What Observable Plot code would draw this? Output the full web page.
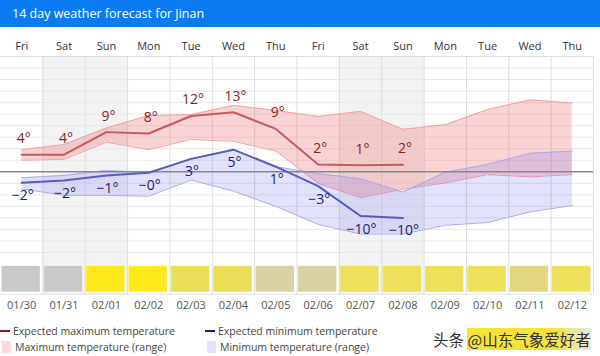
<!DOCTYPE html>
<html>
<head>
<meta charset="utf-8">
<script src="https://cdn.jsdelivr.net/npm/d3@7"></script>
<script src="https://cdn.jsdelivr.net/npm/@observablehq/plot@0.6"></script>
<style>
  body { margin:0; padding:0; width:600px; height:356px; overflow:hidden; background:#fff; font-family:"Open Sans", sans-serif; position:relative; }
  #title { height:27px; background:#0b7bf3; color:#fff; font-size:12.5px; line-height:27px; padding-left:12px; }
  #chart svg { display:block; }
  .leg { position:absolute; font-size:10.5px; color:#444; white-space:nowrap; }
  .leg .ln { display:inline-block; width:10px; height:2px; vertical-align:middle; margin-right:3px; position:relative; top:-1px; }
  .leg .sq { display:inline-block; width:9px; height:12px; vertical-align:middle; margin-right:4px; position:relative; top:-1px; }
  #wm { position:absolute; left:433px; top:328px; font-family:"Noto Sans CJK SC", sans-serif; font-size:15.5px; color:#333; white-space:nowrap; }
  #wm span { background:linear-gradient(90deg,#f5e23a,#f5e23a 70%,#e8e8e8); }
</style>
</head>
<body>
<div id="title">14 day weather forecast for Jinan</div>
<div id="chart"></div>
<div class="leg" style="left:0px;top:324px"><span class="ln" style="background:#8b1c1c"></span>Expected maximum temperature</div>
<div class="leg" style="left:2px;top:340px"><span class="sq" style="background:#fbd9d9"></span>Maximum temperature (range)</div>
<div class="leg" style="left:205px;top:324px"><span class="ln" style="background:#1c1c70"></span>Expected minimum temperature</div>
<div class="leg" style="left:207px;top:340px"><span class="sq" style="background:#e2e2fa"></span>Minimum temperature (range)</div>
<div id="wm">头条 <span>@山东气象爱好者</span></div>
<script>
const days = ["Fri","Sat","Sun","Mon","Tue","Wed","Thu","Fri","Sat","Sun","Mon","Tue","Wed","Thu"];
const dates = ["01/30","01/31","02/01","02/02","02/03","02/04","02/05","02/06","02/07","02/08","02/09","02/10","02/11","02/12"];
const maxExpected = [3.7, 3.7, 8.6, 8.3, 12.1, 12.9, 9.3, 1.6, 1.4, 1.5];
const maxLabels = ["4°","4°","9°","8°","12°","13°","9°","2°","1°","2°"];
const minExpected = [-2.4, -1.9, -0.8, -0.2, 2.8, 4.8, 1.1, -3.1, -9.6, -10.0];
const minLabels = ["−2°","−2°","−1°","−0°","3°","5°","1°","−3°","−10°","−10°"];
const maxRangeHigh = [4.8, 5.9, 9.5, 12.2, 12.4, 14.4, 13.3, 12.0, 13.1, 9.2, 10.2, 13.5, 15.6, 14.9];
const maxRangeLow  = [2.5, 2.7, 6.4, 4.8, 7.0, 6.6, 4.5, -2.5, -5.6, -3.8, -2.4, -0.6, -1.1, -0.6];
const minRangeHigh = [-1.3, -0.8, 0.3, -0.2, 2.8, 4.8, 1.1, -0.4, -1.5, -4.4, -0.1, 1.6, 4.0, 4.5];
const minRangeLow  = [-3.7, -5.1, -5.1, -5.3, -1.8, -4.2, -7.5, -11.4, -13.5, -13.5, -11.6, -11.0, -8.7, -7.3];
const iconColors = ["#c9c9c9","#c9c9c9","#fde91c","#fde91c","#eade58","#eade58","#d8d4a2","#d8d4a2","#ede05a","#ede05a","#ede05a","#ede05a","#e2d780","#ede05a"];
const weekend = [1, 2, 8, 9];
const gridTemps = [-17.5,-15,-12.5,-10,-7.5,-5,-2.5,2.5,5,7.5,10,12.5,15,17.5,20,22.5];

const rows = days.map((d, i) => ({
  i, day: d, date: dates[i], color: iconColors[i],
  maxHi: maxRangeHigh[i], maxLo: maxRangeLow[i],
  minHi: minRangeHigh[i], minLo: minRangeLow[i]
}));
const exp = maxExpected.map((v, i) => ({i, max: v, maxL: maxLabels[i], min: minExpected[i], minL: minLabels[i]}));
const cx = d => d.i + 0.5;

const TOP = 25, ROW_BOTTOM = -26.6;

const chart = Plot.plot({
  width: 600, height: 290,
  marginLeft: 0, marginRight: 7, marginTop: 29, marginBottom: 0,
  x: {domain: [0, 14], axis: null},
  y: {domain: [-31.6, 25], axis: null},
  style: {fontFamily: "Open Sans, sans-serif", overflow: "visible"},
  marks: [
    Plot.rect(weekend.map(i => rows[i]), {x1: d => d.i, x2: d => d.i + 1, y1: ROW_BOTTOM, y2: TOP, fill: "#f3f3f3"}),
    Plot.ruleY(gridTemps, {stroke: "#e9e9e9", strokeWidth: 1}),
    Plot.ruleX(d3.range(1, 15), {y1: ROW_BOTTOM, y2: TOP, stroke: "#dcdcdc"}),
    Plot.ruleY([TOP], {stroke: "#dcdcdc"}),
    Plot.ruleY([ROW_BOTTOM], {stroke: "#e4e4e4"}),
    Plot.areaY(rows, {x: cx, y1: "maxLo", y2: "maxHi", fill: "#f07070", fillOpacity: 0.3}),
    Plot.lineY(rows, {x: cx, y: "maxHi", stroke: "#f2a3a3", strokeWidth: 1}),
    Plot.lineY(rows, {x: cx, y: "maxLo", stroke: "#f2a3a3", strokeWidth: 1}),
    Plot.areaY(rows, {x: cx, y1: "minLo", y2: "minHi", fill: "#7070f0", fillOpacity: 0.2}),
    Plot.lineY(rows, {x: cx, y: "minHi", stroke: "#a9a9f0", strokeWidth: 1}),
    Plot.lineY(rows, {x: cx, y: "minLo", stroke: "#a9a9f0", strokeWidth: 1}),
    Plot.ruleY([0], {x1: 0, x2: 14, stroke: "#888", strokeWidth: 1.5}),
    Plot.lineY(exp, {x: cx, y: "max", stroke: "#c45a5a", strokeWidth: 2}),
    Plot.lineY(exp, {x: cx, y: "min", stroke: "#5a5ac0", strokeWidth: 2}),
    Plot.text(exp, {x: cx, y: "max", text: "maxL", dy: -16, dx: 2, fill: "#8b1c1c", fontSize: 14}),
    Plot.text(exp, {x: cx, y: "min", text: "minL", dy: 13, dx: 1, fill: "#1c1c70", fontSize: 14}),
    Plot.rect(rows, {x1: d => d.i + 0.035, x2: d => d.i + 0.94, y1: -26.1, y2: -20.5, fill: "color"}),
    Plot.text(rows, {x: cx, y: 27.2, text: "day", fill: "#333", fontSize: 11}),
    Plot.text(rows, {x: cx, y: -29.0, text: "date", fill: "#555", fontSize: 11, letterSpacing: "0.5px"})
  ]
});
document.getElementById("chart").appendChild(chart);
</script>
</body>
</html>
